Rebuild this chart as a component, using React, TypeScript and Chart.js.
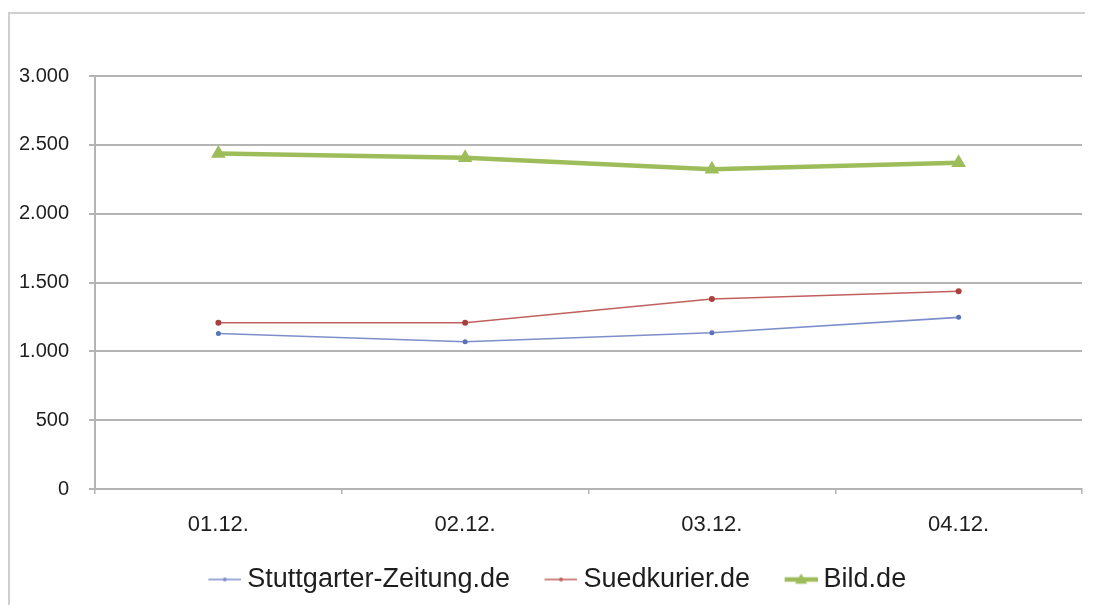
import React, { useEffect, useRef } from "react";
import { Chart, registerables } from "chart.js";

Chart.register(...registerables);

const categories = ["01.12.", "02.12.", "03.12.", "04.12."];
const stuttgarter = [1130, 1070, 1135, 1247];
const suedkurier = [1208, 1208, 1380, 1436];
const bild = [2437, 2406, 2322, 2370];
const seriesNames = ["Stuttgarter-Zeitung.de", "Suedkurier.de", "Bild.de"];
const yTickLabels = ["0", "500", "1.000", "1.500", "2.000", "2.500", "3.000"];

const FONT = "'Liberation Sans', Arial, Helvetica, sans-serif";
const GRID = "#b4b4b4";
const TEXT = "#1e1e1e";

function makeLegendImage(color: string, lineWidth: number, marker: "circle" | "triangle", size: number) {
  const c = document.createElement("canvas");
  c.width = 65;
  c.height = 24;
  const ctx = c.getContext("2d")!;
  ctx.strokeStyle = color;
  ctx.lineWidth = lineWidth;
  ctx.beginPath();
  ctx.moveTo(32, 12);
  ctx.lineTo(65, 12);
  ctx.stroke();
  ctx.fillStyle = color;
  const mx = 48.5;
  ctx.beginPath();
  if (marker === "circle") {
    ctx.arc(mx, 12, size, 0, Math.PI * 2);
  } else {
    ctx.moveTo(mx, 12 - size);
    ctx.lineTo(mx + size, 12 + size * 0.7);
    ctx.lineTo(mx - size, 12 + size * 0.7);
    ctx.closePath();
  }
  ctx.fill();
  return c;
}

export default function App() {
  const ref = useRef<HTMLCanvasElement | null>(null);

  useEffect(() => {
    if (!ref.current) return;
    const colors = ["#7d8fca", "#c0605d", "#9dbd5a"];
    const legendImgs = [
      makeLegendImage(colors[0], 1.5, "circle", 2),
      makeLegendImage(colors[1], 1.5, "circle", 2),
      makeLegendImage(colors[2], 4.5, "triangle", 6),
    ];
    const chart = new Chart(ref.current, {
      type: "line",
      data: {
        labels: categories,
        datasets: [
          {
            label: seriesNames[0],
            data: stuttgarter,
            borderColor: colors[0],
            backgroundColor: "#5a72b8",
            borderWidth: 1.6,
            pointRadius: 2.5,
            pointBorderWidth: 0,
            pointStyle: "circle",
            tension: 0,
          },
          {
            label: seriesNames[1],
            data: suedkurier,
            borderColor: colors[1],
            backgroundColor: "#a8403d",
            borderWidth: 1.6,
            pointRadius: 3,
            pointBorderWidth: 0,
            pointStyle: "circle",
            tension: 0,
          },
          {
            label: seriesNames[2],
            data: bild,
            borderColor: colors[2],
            backgroundColor: colors[2],
            borderWidth: 4.5,
            pointRadius: 8.5,
            pointBorderWidth: 0,
            pointStyle: "triangle",
            tension: 0,
          },
        ],
      },
      options: {
        responsive: false,
        animation: false,
        devicePixelRatio: 1,
        layout: { padding: { top: 68, right: 11, left: 0, bottom: 2 } },
        plugins: {
          tooltip: { enabled: false },
          title: { display: false },
          legend: {
            position: "bottom",
            labels: {
              usePointStyle: true,
              pointStyleWidth: 50,
              padding: 10,
              color: TEXT,
              font: { family: FONT, size: 27 },
              generateLabels: (ch: any) =>
                ch.data.datasets.map((ds: any, i: number) => ({
                  text: ds.label,
                  pointStyle: legendImgs[i],
                  fillStyle: colors[i],
                  strokeStyle: colors[i],
                  lineWidth: 0,
                  hidden: false,
                  datasetIndex: i,
                  fontColor: TEXT,
                })),
            },
          },
        },
        scales: {
          x: {
            type: "category",
            offset: true,
            grid: {
              offset: true,
              drawOnChartArea: false,
              drawTicks: true,
              tickLength: 5,
              color: GRID,
              lineWidth: 1.5,
            },
            border: { display: true, color: GRID, width: 2 },
            ticks: {
              color: TEXT,
              font: { family: FONT, size: 22 },
              padding: 18,
              maxRotation: 0,
            },
            afterFit: (s: any) => {
              s.height = 67;
            },
          },
          y: {
            min: 0,
            max: 3000,
            grid: {
              color: GRID,
              lineWidth: 2,
              drawTicks: true,
              tickLength: 6,
            },
            border: { display: true, color: GRID, width: 2 },
            ticks: {
              stepSize: 500,
              color: TEXT,
              font: { family: FONT, size: 20 },
              padding: 20,
              callback: (_v: any, i: number) => yTickLabels[i],
            },
            afterFit: (s: any) => {
              s.width = 87;
            },
          },
        },
      },
    });
    return () => chart.destroy();
  }, []);

  return (
    <div style={{ position: "relative", width: 1085, height: 597, overflow: "hidden" }}>
      <div
        style={{
          position: "absolute",
          left: 0,
          top: 4,
          width: 1120,
          height: 620,
          boxSizing: "border-box",
          borderTop: "2px solid #cfcfcf",
          borderLeft: "2px solid #cfcfcf",
        }}
      />
      <canvas
        ref={ref}
        width={1085}
        height={597}
        style={{ position: "absolute", left: 0, top: 0, width: 1085, height: 597 }}
      />
    </div>
  );
}
